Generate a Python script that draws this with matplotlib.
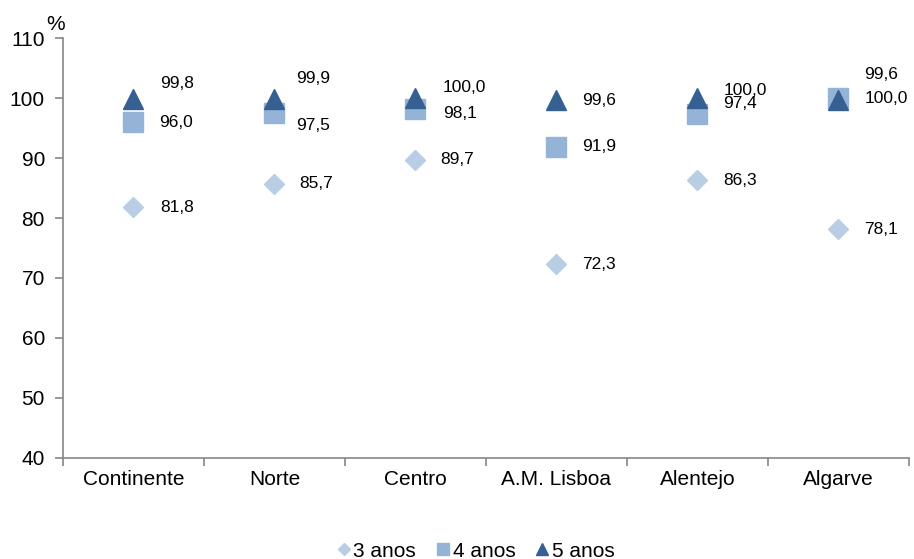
import numpy as np
import matplotlib.pyplot as plt

plt.rcParams['font.family'] = ['Liberation Sans', 'DejaVu Sans']

# Data
regions = ['Continente', 'Norte', 'Centro', 'A.M. Lisboa', 'Alentejo', 'Algarve']
anos3 = [81.8, 85.7, 89.7, 72.3, 86.3, 78.1]
anos4 = [96.0, 97.5, 98.1, 91.9, 97.4, 100.0]
anos5 = [99.8, 99.9, 100.0, 99.6, 100.0, 99.6]
series_names = ['3 anos', '4 anos', '5 anos']

# Label offsets in pixels (dx, dy) per point
off3 = [(27, 0), (25, 0), (25, 0), (26, 0), (26, 0), (26, 0)]
off4 = [(26, 0), (22, -12), (28, -4), (26, 0), (26, 10), (26, 0)]
off5 = [(27, 16), (22, 20), (27, 11), (26, 0), (26, 8), (26, 26)]

c3 = '#B9CDE5'
c4 = '#95B3D7'
c5 = '#376092'

fig = plt.figure(figsize=(9.14, 5.59), dpi=100)
ax = fig.add_axes([0.0689, 0.1807, 0.9256, 0.7513])

x = np.arange(len(regions))
h3, = ax.plot(x, anos3, ls='none', marker='D', ms=10, color=c3, label=series_names[0])
h4, = ax.plot(x, anos4, ls='none', marker='s', ms=14.5, color=c4, label=series_names[1])
h5, = ax.plot(x, anos5, ls='none', marker='^', ms=15, color=c5, label=series_names[2])

def fmt(v):
    return f"{v:.1f}".replace('.', ',')

for vals, offs in [(anos3, off3), (anos4, off4), (anos5, off5)]:
    for i, v in enumerate(vals):
        ax.annotate(fmt(v), (x[i], v), xytext=offs[i], textcoords='offset pixels',
                    ha='left', va='center', fontsize=12.5, color='black')

ax.set_xlim(-0.5, len(regions) - 0.5)
ax.set_ylim(40, 110)
ax.set_yticks(np.arange(40, 111, 10))
ax.set_xticks(x)
ax.set_xticklabels(regions)
ax.set_xticks(np.arange(-0.5, len(regions), 1), minor=True)
ax.tick_params(axis='x', which='major', length=0, pad=9, labelsize=15)
ax.tick_params(axis='x', which='minor', length=6, color='#868686', width=1.2)
ax.tick_params(axis='y', length=6, color='#868686', width=1.2, labelsize=15, pad=7)

for s in ['top', 'right']:
    ax.spines[s].set_visible(False)
for s in ['left', 'bottom']:
    ax.spines[s].set_color('#868686')
    ax.spines[s].set_linewidth(1.2)

fig.text(0.051, 0.956, '%', fontsize=15, ha='left', va='center')

fig.legend(handles=[h3, h4, h5], loc='center', bbox_to_anchor=(0.521, 0.014),
           ncol=3, frameon=False, fontsize=15, markerscale=0.6,
           handlelength=0.6, handletextpad=0.15, columnspacing=1.0)

fig.savefig('out.png', dpi=100)
